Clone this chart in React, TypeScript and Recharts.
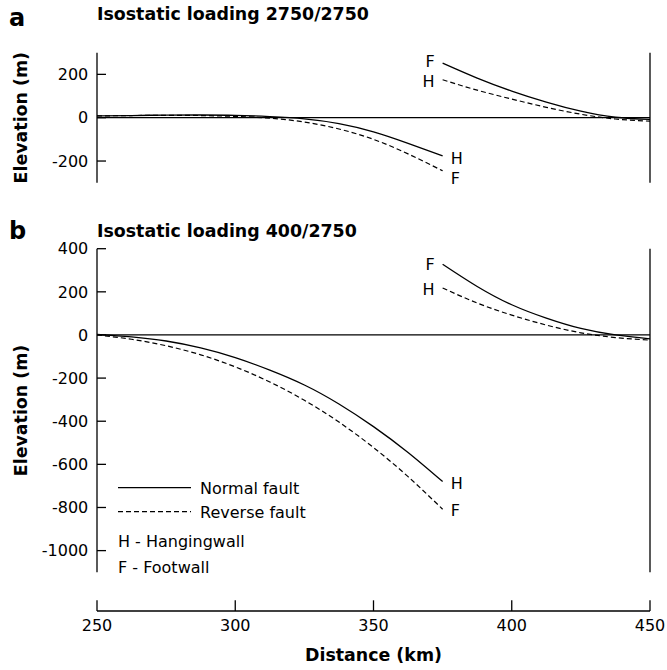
import React from 'react'
import { LineChart, Line, XAxis, YAxis, ReferenceLine, Legend } from 'recharts'

const FONT = '"DejaVu Sans", "Liberation Sans", sans-serif'
const DASH = '5 3'

// distance (km), shared by both panels; index 10 (375 km) is the fault
const distance = [250, 262.5, 275, 287.5, 300, 312.5, 325, 337.5, 350, 362.5, 375, 387.5, 400, 412.5, 425, 437.5, 450]
const FAULT = 10

// panel a - isostatic loading 2750/2750 (elevation, m)
const aNormalHW = [8, 10, 12, 12.5, 11, 5, -5, -27, -65, -118, -176]
const aReverseFW = [8, 10, 11, 10, 6, -2, -20, -52, -100, -167, -245]
const aNormalFW = [252, 183, 123, 72, 30, 2, -8]
const aReverseHW = [175, 127, 86, 48, 16, -6, -16]

// panel b - isostatic loading 400/2750 (elevation, m)
const bNormalHW = [3, -9, -28, -60, -105, -163, -232, -320, -425, -545, -680]
const bReverseFW = [0, -20, -50, -92, -148, -218, -303, -404, -522, -657, -808]
const bNormalFW = [328, 225, 140, 78, 30, 0, -18]
const bReverseHW = [218, 148, 92, 46, 10, -12, -24]

const aTicks = [-200, 0, 200]
const bTicks = [-1000, -800, -600, -400, -200, 0, 200, 400]
const xTicks = [250, 300, 350, 400, 450]

function buildRows(normalLeft: number[], reverseLeft: number[], normalRight: number[], reverseRight: number[]) {
  return distance.map((d, i) => ({
    distance: d,
    normalLeft: i <= FAULT ? normalLeft[i] : null,
    reverseLeft: i <= FAULT ? reverseLeft[i] : null,
    normalRight: i >= FAULT ? normalRight[i - FAULT] : null,
    reverseRight: i >= FAULT ? reverseRight[i - FAULT] : null,
  }))
}

const rowsA = buildRows(aNormalHW, aReverseFW, aNormalFW, aReverseHW)
const rowsB = buildRows(bNormalHW, bReverseFW, bNormalFW, bReverseHW)

const tickStyle = { fontSize: 16, fill: '#000', fontFamily: FONT }
const lineStyle = { stroke: '#000', strokeWidth: 1.3 }

// H / F letters at the fault end of each curve
const endLabel = (text: string, side: 'left' | 'right', dy: number) => (props: any) => {
  const { x, y, index, value } = props
  if (index !== FAULT || value == null || x == null || y == null) return null
  return (
    <text
      x={side === 'right' ? x + 8 : x - 8}
      y={y + dy}
      textAnchor={side === 'right' ? 'start' : 'end'}
      fontSize={16}
      fontFamily={FONT}
      fill="#000"
    >
      {text}
    </text>
  )
}

const yLabel = (props: any) => {
  const vb = props.viewBox || {}
  const cy = vb.y + vb.height / 2
  return (
    <text
      x={21}
      y={cy}
      transform={`rotate(-90, 21, ${cy})`}
      textAnchor="middle"
      dominantBaseline="central"
      fontSize={17.4}
      fontWeight="bold"
      fontFamily={FONT}
      fill="#000"
    >
      Elevation (m)
    </text>
  )
}

const xLabel = (props: any) => {
  const vb = props.viewBox || {}
  return (
    <text
      x={vb.x + vb.width / 2}
      y={vb.y + 50}
      textAnchor="middle"
      fontSize={17.4}
      fontWeight="bold"
      fontFamily={FONT}
      fill="#000"
    >
      Distance (km)
    </text>
  )
}

const legendContent = (props: any) => {
  const items = (props.payload || []).filter((p: any) => p.type !== 'none')
  return (
    <svg width={220} height={100} style={{ display: 'block' }}>
      {items.map((it: any, i: number) => (
        <g key={it.value}>
          <line
            x1={8}
            x2={81}
            y1={12.7 + i * 24}
            y2={12.7 + i * 24}
            stroke="#000"
            strokeWidth={1.2}
            strokeDasharray={it.payload?.strokeDasharray}
          />
          <text x={90} y={18.5 + i * 24} fontSize={16} fontFamily={FONT} fill="#000">
            {it.value}
          </text>
        </g>
      ))}
      <text x={8} y={71.5} fontSize={16} fontFamily={FONT} fill="#000">H - Hangingwall</text>
      <text x={8} y={97.5} fontSize={16} fontFamily={FONT} fill="#000">F - Footwall</text>
    </svg>
  )
}

// dy: vertical offsets of the end letters [normal left, normal right, reverse left, reverse right]
function series(dy: number[]) {
  return [
    <Line key="nl" yAxisId="l" dataKey="normalLeft" name="Normal fault" type="natural" {...lineStyle}
      dot={false} isAnimationActive={false} label={endLabel('H', 'right', dy[0])} />,
    <Line key="nr" yAxisId="l" dataKey="normalRight" name="Normal fault (fw)" legendType="none" type="natural" {...lineStyle}
      dot={false} isAnimationActive={false} label={endLabel('F', 'left', dy[1])} />,
    <Line key="rl" yAxisId="l" dataKey="reverseLeft" name="Reverse fault" type="natural" stroke="#000" strokeWidth={1.2}
      strokeDasharray={DASH} dot={false} isAnimationActive={false} label={endLabel('F', 'right', dy[2])} />,
    <Line key="rr" yAxisId="l" dataKey="reverseRight" name="Reverse fault (hw)" legendType="none" type="natural" stroke="#000"
      strokeWidth={1.2} strokeDasharray={DASH} dot={false} isAnimationActive={false} label={endLabel('H', 'left', dy[3])} />,
  ]
}

export default function App() {
  return (
    <div style={{ position: 'absolute', left: 0, top: 0, width: 667, height: 670, background: '#fff' }}>
      <svg width={667} height={670} style={{ position: 'absolute', left: 0, top: 0 }}>
        <text x={9} y={26} fontSize={24} fontWeight="bold" fontFamily={FONT}>a</text>
        <text x={97} y={20} fontSize={17.4} fontWeight="bold" fontFamily={FONT}>Isostatic loading 2750/2750</text>
        <text x={9} y={239} fontSize={24} fontWeight="bold" fontFamily={FONT}>b</text>
        <text x={97} y={237} fontSize={17.4} fontWeight="bold" fontFamily={FONT}>Isostatic loading 400/2750</text>
      </svg>

      <div style={{ position: 'absolute', left: 0, top: 0 }}>
        <LineChart width={667} height={200} data={rowsA} margin={{ top: 52.7, right: 0, bottom: 17.3, left: 0 }}>
          <XAxis dataKey="distance" type="number" domain={[250, 450]} hide />
          <YAxis yAxisId="l" width={97} domain={[-300, 300]} ticks={aTicks} interval={0} allowDataOverflow
            tickSize={-9} tickMargin={17.7} tick={tickStyle} axisLine={lineStyle} tickLine={lineStyle} label={yLabel} />
          <YAxis yAxisId="r" orientation="right" width={17} domain={[-300, 300]} ticks={aTicks} interval={0}
            allowDataOverflow tickSize={-9} tick={false} axisLine={lineStyle} tickLine={lineStyle} />
          <ReferenceLine yAxisId="l" y={0} {...lineStyle} />
          {series([8, 4, 13, 7])}
        </LineChart>
      </div>

      <div style={{ position: 'absolute', left: 0, top: 200 }}>
        <LineChart width={667} height={470} data={rowsB} margin={{ top: 48.7, right: 0, bottom: 0, left: 0 }}>
          <XAxis dataKey="distance" type="number" domain={[250, 450]} ticks={xTicks} interval={0} height={59}
            tickSize={-10.7} tickMargin={19.3} tick={tickStyle} axisLine={lineStyle} tickLine={lineStyle} label={xLabel} />
          <YAxis yAxisId="l" width={97} domain={[-1280, 400]} ticks={bTicks} interval={0} allowDataOverflow
            tickSize={-9} tickMargin={17.7} tick={tickStyle} axisLine={false} tickLine={lineStyle} />
          <YAxis yAxisId="r" orientation="right" width={17} domain={[-1280, 400]} ticks={bTicks} interval={0}
            allowDataOverflow tickSize={-9} tick={false} axisLine={false} tickLine={lineStyle} />
          <ReferenceLine yAxisId="l" segment={[{ x: 250, y: 400 }, { x: 250, y: -1100 }]} {...lineStyle} label={yLabel} />
          <ReferenceLine yAxisId="l" segment={[{ x: 450, y: 400 }, { x: 450, y: -1100 }]} {...lineStyle} />
          <ReferenceLine yAxisId="l" y={0} {...lineStyle} />
          {series([7.5, 6, 7, 7])}
          <Legend layout="vertical" align="center" verticalAlign="middle" content={legendContent}
            wrapperStyle={{ left: 110, top: 275, width: 220, height: 100 }} />
        </LineChart>
      </div>
    </div>
  )
}
